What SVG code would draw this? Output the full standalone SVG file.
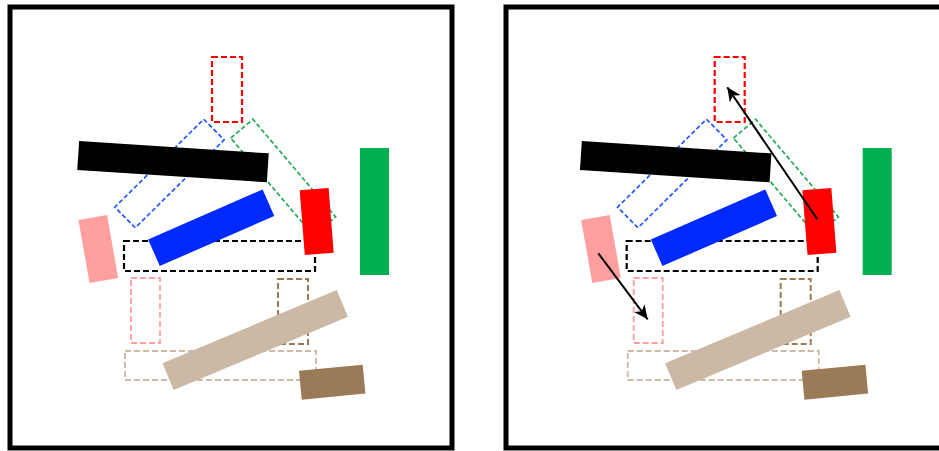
<svg xmlns="http://www.w3.org/2000/svg" width="939" height="451" viewBox="0 0 939 451">
<defs>
<style>
.frame{fill:none;stroke:#000;stroke-width:5}
.d{fill:none;stroke-dasharray:6 3}
.dr{stroke:#ff0000;stroke-width:2.2}
.db{stroke:#2255ff;stroke-width:1.7;stroke-dasharray:4.5 2.5}
.dg{stroke:#22aa55;stroke-width:1.7;stroke-dasharray:4.5 2.5}
.dk{stroke:#000;stroke-width:2.2}
.dp{stroke:#ff9f9f;stroke-width:1.8}
.dn{stroke:#9b7a57;stroke-width:2}
.dt{stroke:#ccb9a6;stroke-width:1.8}
.fk{fill:#000}
.fb{fill:#0029ff}
.fr{fill:#ff0000}
.fg{fill:#00b050}
.fp{fill:#ff9f9f}
.ft{fill:#cbb9a6}
.fn{fill:#9b7a57}
.arrow{stroke:#000;stroke-width:2;fill:none;marker-end:url(#head)}
</style>
<marker id="head" markerUnits="userSpaceOnUse" markerWidth="15" markerHeight="13" viewBox="0 0 15 13" refX="14" refY="6.5" orient="auto">
<path d="M0,0 L14,6.5 L0,13 L4,6.5 Z" fill="#000"/>
</marker>
</defs>
<rect x="0" y="0" width="939" height="451" fill="#fff"/>

<!-- Left panel -->
<g id="left-panel">
<rect class="frame" x="10" y="7" width="442" height="441"/>
<g id="L-red-target"><rect class="d dr" x="212" y="57" width="30" height="65"/></g>
<g id="L-blue-target"><rect class="d db" x="-14.5" y="-62.5" width="29" height="125" transform="translate(169.5,173.5) rotate(45.3)"/></g>
<g id="L-green-target"><rect class="d dg" x="-14.5" y="-64" width="29" height="128" transform="translate(283.2,177.5) rotate(-40.3)"/></g>
<g id="L-black-target"><rect class="d dk" x="124" y="241" width="191" height="30"/></g>
<g id="L-pink-target"><rect class="d dp" x="131" y="278" width="29" height="65"/></g>
<g id="L-brown-target"><rect class="d dn" x="278" y="279" width="30" height="65"/></g>
<g id="L-tan-target"><rect class="d dt" x="125" y="351" width="191" height="29"/></g>
<g id="L-black"><rect class="fk" x="-95" y="-14.5" width="190" height="29" transform="translate(173,161.7) rotate(3.7)"/></g>
<g id="L-blue"><rect class="fb" x="-62.5" y="-14.5" width="125" height="29" transform="translate(211.2,227.7) rotate(-23.6)"/></g>
<g id="L-red"><rect class="fr" x="-14.5" y="-32.5" width="29" height="65" transform="translate(316.7,221.5) rotate(-4.5)"/></g>
<g id="L-green"><rect class="fg" x="360" y="148" width="29" height="127"/></g>
<g id="L-pink"><rect class="fp" x="-14.5" y="-32" width="29" height="64" transform="translate(98.3,249) rotate(-10)"/></g>
<g id="L-tan"><rect class="ft" x="-94.5" y="-14.5" width="189" height="29" transform="translate(255.2,340) rotate(-22.8)"/></g>
<g id="L-brown"><rect class="fn" x="-32" y="-14.5" width="64" height="29" transform="translate(332.2,382.2) rotate(-5.4)"/></g>
</g>

<!-- Right panel -->
<g id="right-panel">
<rect class="frame" x="506" y="7" width="442" height="441"/>
<g transform="translate(502.7,0)">
<g id="R-red-target"><rect class="d dr" x="212" y="57" width="30" height="65"/></g>
<g id="R-blue-target"><rect class="d db" x="-14.5" y="-62.5" width="29" height="125" transform="translate(169.5,173.5) rotate(45.3)"/></g>
<g id="R-green-target"><rect class="d dg" x="-14.5" y="-64" width="29" height="128" transform="translate(283.2,177.5) rotate(-40.3)"/></g>
<g id="R-black-target"><rect class="d dk" x="124" y="241" width="191" height="30"/></g>
<g id="R-pink-target"><rect class="d dp" x="131" y="278" width="29" height="65"/></g>
<g id="R-brown-target"><rect class="d dn" x="278" y="279" width="30" height="65"/></g>
<g id="R-tan-target"><rect class="d dt" x="125" y="351" width="191" height="29"/></g>
<g id="R-black"><rect class="fk" x="-95" y="-14.5" width="190" height="29" transform="translate(173,161.7) rotate(3.7)"/></g>
<g id="R-blue"><rect class="fb" x="-62.5" y="-14.5" width="125" height="29" transform="translate(211.2,227.7) rotate(-23.6)"/></g>
<g id="R-red"><rect class="fr" x="-14.5" y="-32.5" width="29" height="65" transform="translate(316.7,221.5) rotate(-4.5)"/></g>
<g id="R-green"><rect class="fg" x="360" y="148" width="29" height="127"/></g>
<g id="R-pink"><rect class="fp" x="-14.5" y="-32" width="29" height="64" transform="translate(98.3,249) rotate(-10)"/></g>
<g id="R-tan"><rect class="ft" x="-94.5" y="-14.5" width="189" height="29" transform="translate(255.2,340) rotate(-22.8)"/></g>
<g id="R-brown"><rect class="fn" x="-32" y="-14.5" width="64" height="29" transform="translate(332.2,382.2) rotate(-5.4)"/></g>
</g>
<g id="connectors">
<line class="arrow" x1="817.3" y1="219.3" x2="727.3" y2="87.3"/>
<line class="arrow" x1="598.3" y1="253.3" x2="647.7" y2="319.3"/>
</g>
</g>
</svg>
